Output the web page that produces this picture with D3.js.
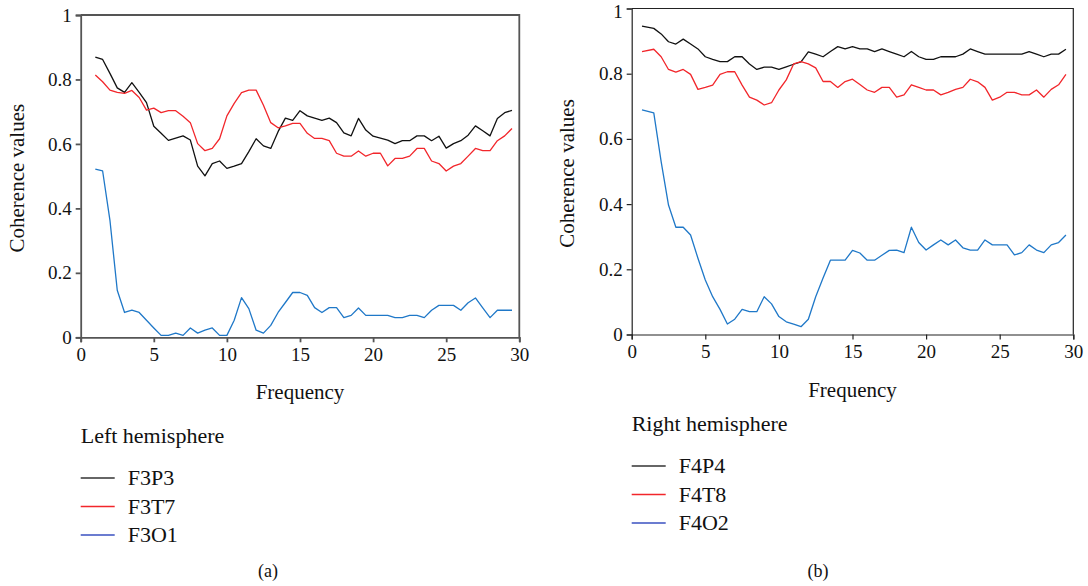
<!DOCTYPE html>
<html>
<head>
<meta charset="utf-8">
<script src="https://cdn.jsdelivr.net/npm/d3@7"></script>
<style>
  body { margin: 0; background: #fff; }
  svg text { font-family: "Liberation Serif", "DejaVu Serif", serif; fill: #111; }
</style>
</head>
<body>
<script>
// frequencies (Hz) of the sampled points
const freqsLeft = [1, 1.5, 2, 2.5, 3, 3.5, 4, 4.5, 5, 5.5, 6, 6.5, 7, 7.5, 8, 8.5, 9, 9.5, 10, 10.5,
    11, 11.5, 12, 12.5, 13, 13.5, 14, 14.5, 15, 15.5, 16, 16.5, 17, 17.5, 18, 18.5, 19, 19.5, 20, 20.5,
    21, 21.5, 22, 22.5, 23, 23.5, 24, 24.5, 25, 25.5, 26, 26.5, 27, 27.5, 28, 28.5, 29, 29.5];
const freqsRight = [0.7, 1.5, 2, 2.5, 3, 3.5, 4, 4.5, 5, 5.5, 6, 6.5, 7, 7.5, 8, 8.5, 9, 9.5, 10, 10.5,
    11, 11.5, 12, 12.5, 13, 13.5, 14, 14.5, 15, 15.5, 16, 16.5, 17, 17.5, 18, 18.5, 19, 19.5, 20, 20.5,
    21, 21.5, 22, 22.5, 23, 23.5, 24, 24.5, 25, 25.5, 26, 26.5, 27, 27.5, 28, 28.5, 29, 29.5];

// left hemisphere
const f3p3 = [0.869, 0.862, 0.819, 0.774, 0.760, 0.790, 0.760, 0.728, 0.655, 0.633,
    0.611, 0.618, 0.625, 0.612, 0.531, 0.501, 0.539, 0.547, 0.524, 0.531,
    0.539, 0.576, 0.616, 0.594, 0.586, 0.638, 0.680, 0.673, 0.703, 0.687,
    0.680, 0.673, 0.680, 0.666, 0.634, 0.625, 0.679, 0.643, 0.624, 0.618,
    0.612, 0.601, 0.610, 0.610, 0.625, 0.625, 0.610, 0.624, 0.587, 0.601,
    0.610, 0.627, 0.656, 0.641, 0.625, 0.679, 0.697, 0.704];
const f3t7 = [0.814, 0.793, 0.767, 0.760, 0.757, 0.766, 0.744, 0.705, 0.711, 0.697,
    0.703, 0.703, 0.686, 0.666, 0.601, 0.579, 0.586, 0.616, 0.687, 0.726,
    0.759, 0.767, 0.767, 0.720, 0.666, 0.650, 0.656, 0.664, 0.664, 0.633,
    0.617, 0.617, 0.610, 0.571, 0.562, 0.562, 0.578, 0.562, 0.571, 0.571,
    0.532, 0.555, 0.555, 0.562, 0.586, 0.586, 0.547, 0.539, 0.516, 0.531,
    0.539, 0.562, 0.586, 0.579, 0.579, 0.610, 0.625, 0.648];
const f3o1 = [0.522, 0.516, 0.363, 0.146, 0.077, 0.084, 0.077, 0.053, 0.029, 0.006,
    0.006, 0.013, 0.006, 0.029, 0.013, 0.022, 0.029, 0.006, 0.006, 0.053,
    0.123, 0.089, 0.022, 0.013, 0.037, 0.077, 0.108, 0.139, 0.139, 0.130,
    0.092, 0.077, 0.092, 0.092, 0.061, 0.068, 0.091, 0.068, 0.068, 0.068,
    0.068, 0.061, 0.061, 0.068, 0.068, 0.061, 0.084, 0.099, 0.099, 0.099,
    0.084, 0.107, 0.122, 0.091, 0.061, 0.084, 0.084, 0.084];

// right hemisphere
const f4p4 = [0.946, 0.939, 0.922, 0.898, 0.891, 0.906, 0.891, 0.876, 0.852, 0.844,
    0.837, 0.837, 0.852, 0.852, 0.830, 0.813, 0.820, 0.820, 0.813, 0.821,
    0.829, 0.836, 0.867, 0.860, 0.852, 0.868, 0.883, 0.876, 0.883, 0.876,
    0.876, 0.868, 0.876, 0.868, 0.860, 0.852, 0.868, 0.852, 0.844, 0.844,
    0.852, 0.852, 0.852, 0.860, 0.876, 0.868, 0.860, 0.860, 0.860, 0.860,
    0.860, 0.860, 0.868, 0.860, 0.852, 0.860, 0.860, 0.875];
const f4t8 = [0.868, 0.875, 0.852, 0.813, 0.805, 0.813, 0.798, 0.752, 0.758, 0.765,
    0.798, 0.806, 0.806, 0.765, 0.728, 0.719, 0.704, 0.711, 0.750, 0.781,
    0.830, 0.837, 0.830, 0.818, 0.776, 0.776, 0.758, 0.776, 0.783, 0.767,
    0.750, 0.743, 0.758, 0.758, 0.728, 0.735, 0.766, 0.758, 0.750, 0.750,
    0.735, 0.743, 0.752, 0.758, 0.783, 0.775, 0.758, 0.719, 0.728, 0.743,
    0.743, 0.735, 0.735, 0.750, 0.728, 0.752, 0.766, 0.798];
const f4o2 = [0.689, 0.680, 0.530, 0.397, 0.329, 0.329, 0.305, 0.234, 0.167, 0.116,
    0.077, 0.032, 0.047, 0.077, 0.070, 0.070, 0.116, 0.094, 0.055, 0.039,
    0.032, 0.024, 0.047, 0.116, 0.173, 0.228, 0.228, 0.228, 0.258, 0.250,
    0.228, 0.228, 0.243, 0.258, 0.259, 0.251, 0.329, 0.282, 0.259, 0.275,
    0.290, 0.275, 0.290, 0.266, 0.259, 0.259, 0.290, 0.275, 0.275, 0.275,
    0.244, 0.251, 0.275, 0.259, 0.251, 0.275, 0.282, 0.305];

const xTicks = [0, 5, 10, 15, 20, 25, 30];
const yTicks = [0, 0.2, 0.4, 0.6, 0.8, 1];
const seriesColors = ["#111111", "#f2262b", "#1f78c8"];
const legendColors = ["#333333", "#f2262b", "#3a50c0"];

const svg = d3.select("body").append("svg")
    .attr("width", 1088)
    .attr("height", 586);

function drawPanel(opts) {
    const x = d3.scaleLinear().domain([0, 30]).range([opts.left, opts.right]);
    const y = d3.scaleLinear().domain([0, 1]).range([opts.bottom, opts.top]);
    const g = svg.append("g");

    // frame (top + right)
    g.append("path")
        .attr("d", `M${opts.left},${opts.top}H${opts.right}V${opts.bottom}`)
        .attr("fill", "none")
        .attr("stroke", opts.axisColor)
        .attr("stroke-width", opts.axisWidth);

    const xAxis = g.append("g")
        .attr("transform", `translate(0,${opts.bottom})`)
        .call(d3.axisBottom(x).tickValues(xTicks).tickSize(5).tickPadding(5).tickFormat(d3.format("d")));
    const yAxis = g.append("g")
        .attr("transform", `translate(${opts.left},0)`)
        .call(d3.axisLeft(y).tickValues(yTicks).tickSize(5).tickPadding(4).tickFormat(d => d === 0 || d === 1 ? d : d3.format(".1f")(d)));

    [xAxis, yAxis].forEach(a => {
        a.select(".domain").attr("stroke", opts.axisColor).attr("stroke-width", opts.axisWidth);
        a.selectAll(".tick line").attr("stroke", opts.axisColor).attr("stroke-width", opts.axisWidth);
        a.selectAll(".tick text")
            .style("font-family", "'Liberation Serif', serif")
            .style("font-size", "19px")
            .attr("fill", "#111");
    });
    // keep the top label inside the picture
    yAxis.selectAll(".tick text").filter(d => d === 1).attr("dy", opts.topLabelDy);

    const line = d3.line()
        .x((d, i) => x(opts.freqs[i]))
        .y(d => y(d));

    opts.series.forEach((s, i) => {
        g.append("path")
            .datum(s.values)
            .attr("fill", "none")
            .attr("stroke", seriesColors[i])
            .attr("stroke-width", 1.3)
            .attr("stroke-linejoin", "round")
            .attr("d", line);
    });

    g.append("text")
        .attr("transform", `translate(${opts.yTitleX},${(opts.top + opts.bottom) / 2 + 2}) rotate(-90)`)
        .attr("text-anchor", "middle")
        .style("font-size", "21px")
        .text("Coherence values");

    g.append("text")
        .attr("x", (opts.left + opts.right) / 2)
        .attr("y", opts.bottom + 62)
        .attr("text-anchor", "middle")
        .style("font-size", "21px")
        .text("Frequency");

    // legend
    g.append("text")
        .attr("x", opts.left)
        .attr("y", opts.legendTop)
        .style("font-size", "22px")
        .text(opts.legendTitle);

    opts.series.forEach((s, i) => {
        const ly = opts.legendTop + 35 + i * 28.5;
        g.append("line")
            .attr("x1", opts.left).attr("x2", opts.left + 34)
            .attr("y1", ly).attr("y2", ly)
            .attr("stroke", legendColors[i])
            .attr("stroke-width", 1.3);
        g.append("text")
            .attr("x", opts.left + 47)
            .attr("y", ly + 7)
            .style("font-size", "22px")
            .text(s.name);
    });

    g.append("text")
        .attr("x", opts.captionX)
        .attr("y", 577)
        .attr("text-anchor", "middle")
        .style("font-size", "18px")
        .text(opts.caption);
}

drawPanel({
    left: 80.7, right: 519.3, top: 15, bottom: 337.3,
    axisColor: "#555", axisWidth: 1.8,
    freqs: freqsLeft,
    series: [{ name: "F3P3", values: f3p3 }, { name: "F3T7", values: f3t7 }, { name: "F3O1", values: f3o1 }],
    yTitleX: 24,
    topLabelDy: "0.32em",
    legendTitle: "Left hemisphere",
    legendTop: 443,
    caption: "(a)", captionX: 268
});

drawPanel({
    left: 631.7, right: 1073.3, top: 8.5, bottom: 334.5,
    axisColor: "#222", axisWidth: 1.2,
    freqs: freqsRight,
    series: [{ name: "F4P4", values: f4p4 }, { name: "F4T8", values: f4t8 }, { name: "F4O2", values: f4o2 }],
    yTitleX: 574,
    topLabelDy: "0.45em",
    legendTitle: "Right hemisphere",
    legendTop: 431,
    caption: "(b)", captionX: 818
});
</script>
</body>
</html>
